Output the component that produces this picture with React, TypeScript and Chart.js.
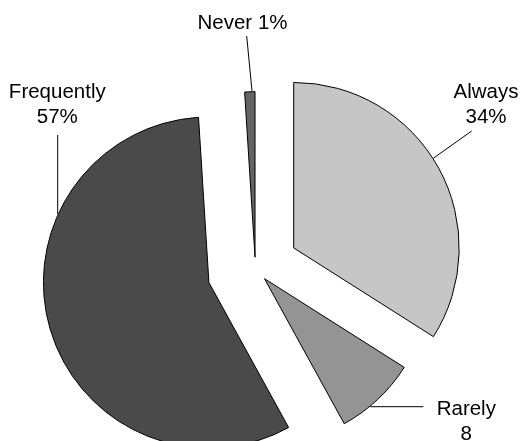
import { useEffect, useRef } from "react";
import { Chart, registerables } from "chart.js";

Chart.register(...registerables);

// ---- data ----
const categories = ["Always", "Rarely", "Frequently", "Never"];
const percentages = [34, 8, 57, 1];
const valueLabels = ["34%", "8", "57%", "1%"];
const singleLineLabel = [false, false, false, true];

// ---- style / layout ----
const sliceColors = ["#c6c6c6", "#949494", "#4a4a4a", "#646464"];
const explode = [43.7, 13.3, 48.4, 11.8];
// first-line baseline centre of each label
const labelAnchors = [
  [486, 97.5],
  [466.3, 415],
  [57.3, 97.5],
  [242.5, 29.3],
];
// where each leader line starts (next to the label) and its direction toward the pie
const leaderStarts = [
  [471.7, 131],
  [423.3, 406.7],
  [57.7, 135],
  [246.7, 36],
];
const leaderDirs = [
  [-38.4, 27.3],
  [-1, 0],
  [0, 1],
  [5.3, 55],
];

export default function App() {
  const ref = useRef<HTMLCanvasElement>(null);

  useEffect(() => {
    const canvas = ref.current;
    if (!canvas) return;

    const explodePlugin = {
      id: "explodeSlices",
      beforeDatasetsDraw(chart: any) {
        const meta = chart.getDatasetMeta(0);
        const ca = chart.chartArea;
        const cx = (ca.left + ca.right) / 2;
        const cy = (ca.top + ca.bottom) / 2;
        meta.data.forEach((el: any, i: number) => {
          const mid = (el.startAngle + el.endAngle) / 2;
          el.x = cx + Math.cos(mid) * explode[i];
          el.y = cy + Math.sin(mid) * explode[i];
        });
      },
    };

    const labelPlugin = {
      id: "leaderLabels",
      afterDatasetsDraw(chart: any) {
        const ctx = chart.ctx as CanvasRenderingContext2D;
        const meta = chart.getDatasetMeta(0);
        ctx.save();
        ctx.strokeStyle = "#000";
        ctx.lineWidth = 1;
        ctx.fillStyle = "#000";
        ctx.font = "20.5px 'Liberation Sans', Arial, Helvetica, sans-serif";
        ctx.textAlign = "center";
        ctx.textBaseline = "alphabetic";
        meta.data.forEach((el: any, i: number) => {
          const [sx, sy] = leaderStarts[i];
          const [dx, dy] = leaderDirs[i];
          const len = Math.hypot(dx, dy);
          const ux = dx / len;
          const uy = dy / len;
          const r = el.outerRadius + 0.5;
          const fx = sx - el.x;
          const fy = sy - el.y;
          const b = fx * ux + fy * uy;
          const c = fx * fx + fy * fy - r * r;
          const disc = b * b - c;
          const t = disc >= 0 ? -b - Math.sqrt(disc) : 0;
          ctx.beginPath();
          ctx.moveTo(sx, sy);
          ctx.lineTo(sx + ux * t, sy + uy * t);
          ctx.stroke();

          const [lx, ly] = labelAnchors[i];
          const lines = singleLineLabel[i]
            ? [categories[i] + " " + valueLabels[i]]
            : [categories[i], valueLabels[i]];
          lines.forEach((txt, k) => ctx.fillText(txt, lx, ly + k * 25));
        });
        ctx.restore();
      },
    };

    const chart = new Chart(canvas, {
      type: "pie",
      data: {
        labels: categories,
        datasets: [
          {
            data: percentages,
            backgroundColor: sliceColors,
            borderColor: "#000",
            borderWidth: 1,
            borderJoinStyle: "miter",
          } as any,
        ],
      },
      options: {
        responsive: false,
        animation: false,
        events: [],
        layout: { padding: { left: 89.4, right: 101.6, top: 103, bottom: 6 } },
        plugins: {
          legend: { display: false },
          tooltip: { enabled: false },
        },
      },
      plugins: [explodePlugin, labelPlugin],
    });

    return () => chart.destroy();
  }, []);

  return (
    <div style={{ position: "absolute", left: 0, top: 0, width: 523, height: 441, background: "#fff" }}>
      <canvas ref={ref} width={523} height={441} style={{ display: "block" }} />
    </div>
  );
}
